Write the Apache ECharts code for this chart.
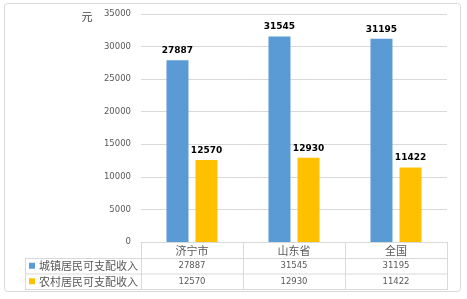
<!DOCTYPE html>
<html><head><meta charset="utf-8">
<script src="https://cdn.jsdelivr.net/npm/echarts@6/dist/echarts.min.js"></script>
<style>html,body{margin:0;padding:0;background:#fff}#c{width:467px;height:299px}</style>
</head><body><div id="c"></div>
<script>
var categories = ['济宁市', '山东省', '全国'];
var seriesNames = ['城镇居民可支配收入', '农村居民可支配收入'];
var urbanValues = [27887, 31545, 31195];
var ruralValues = [12570, 12930, 11422];
var yTicks = [0, 5000, 10000, 15000, 20000, 25000, 30000, 35000];
var unitLabel = '元';

var colors = ['#5B9BD5', '#FFC000'];
var gridL = 141, gridR = 447, axisY = 242, gridT = 14;
var rowYs = [242, 258, 273.5, 289];
var tableLeft = 25;
var lineColor = '#D9D9D9';
var txtColor = '#595959';
var cjk = '"Noto Sans CJK SC", "Noto Sans", sans-serif';
var num = '"DejaVu Sans", sans-serif';

var chart = echarts.init(document.getElementById('c'), null, {renderer: 'canvas'});
var allSeries = [urbanValues, ruralValues];
var colW = (gridR - gridL) / categories.length;

var graphics = [];
graphics.push({type: 'rect', shape: {x: 4.5, y: 3.5, width: 456, height: 288, r: 3},
  style: {fill: 'none', stroke: lineColor, lineWidth: 1}, silent: true, z: -1});
graphics.push({type: 'text', x: 87, y: 17, style: {text: unitLabel, font: '11px ' + cjk, fill: '#404040', align: 'center', verticalAlign: 'middle'}});
for (var r = 1; r < rowYs.length; r++) {
  graphics.push({type: 'line', shape: {x1: tableLeft, y1: rowYs[r] + 0.5, x2: gridR, y2: rowYs[r] + 0.5},
    style: {stroke: lineColor, lineWidth: 1}, silent: true});
}
graphics.push({type: 'line', shape: {x1: tableLeft + 0.5, y1: rowYs[1], x2: tableLeft + 0.5, y2: rowYs[3] + 1},
  style: {stroke: lineColor, lineWidth: 1}, silent: true});
for (var s = 0; s < allSeries.length; s++) {
  var cy = (rowYs[s + 1] + rowYs[s + 2]) / 2 + 0.5;
  graphics.push({type: 'rect', shape: {x: 29, y: cy - 3.5, width: 6, height: 6}, style: {fill: colors[s]}});
  graphics.push({type: 'text', x: 39, y: cy, style: {text: seriesNames[s], font: '11px ' + cjk, fill: txtColor, verticalAlign: 'middle'}});
  for (var i = 0; i < categories.length; i++) {
    graphics.push({type: 'text', x: gridL + colW * (i + 0.5), y: cy,
      style: {text: String(allSeries[s][i]), font: '8.5px ' + num, fill: txtColor, align: 'center', verticalAlign: 'middle'}});
  }
}

chart.setOption({
  animation: false,
  grid: {left: gridL, right: 467 - gridR, top: gridT, bottom: 299 - axisY},
  xAxis: {
    type: 'category', data: categories,
    axisLine: {lineStyle: {color: lineColor}},
    axisTick: {show: true, length: rowYs[3] - axisY + 1, lineStyle: {color: lineColor}},
    axisLabel: {color: txtColor, fontSize: 11, fontFamily: cjk, margin: 3}
  },
  yAxis: {
    type: 'value', min: yTicks[0], max: yTicks[yTicks.length - 1], interval: yTicks[1] - yTicks[0],
    axisLine: {show: false}, axisTick: {show: false},
    axisLabel: {color: txtColor, fontSize: 8.5, fontFamily: num, margin: 10, formatter: function (v) { return String(v); }},
    splitLine: {lineStyle: {color: lineColor}}
  },
  series: allSeries.map(function (vals, k) {
    return {
      type: 'bar', name: seriesNames[k], data: vals,
      barWidth: 22, barGap: '32%',
      itemStyle: {color: colors[k]},
      label: {show: true, position: 'top', distance: 5, color: '#000', fontSize: 9, fontWeight: 'bold', fontFamily: num}
    };
  }),
  graphic: graphics
});
</script></body></html>
